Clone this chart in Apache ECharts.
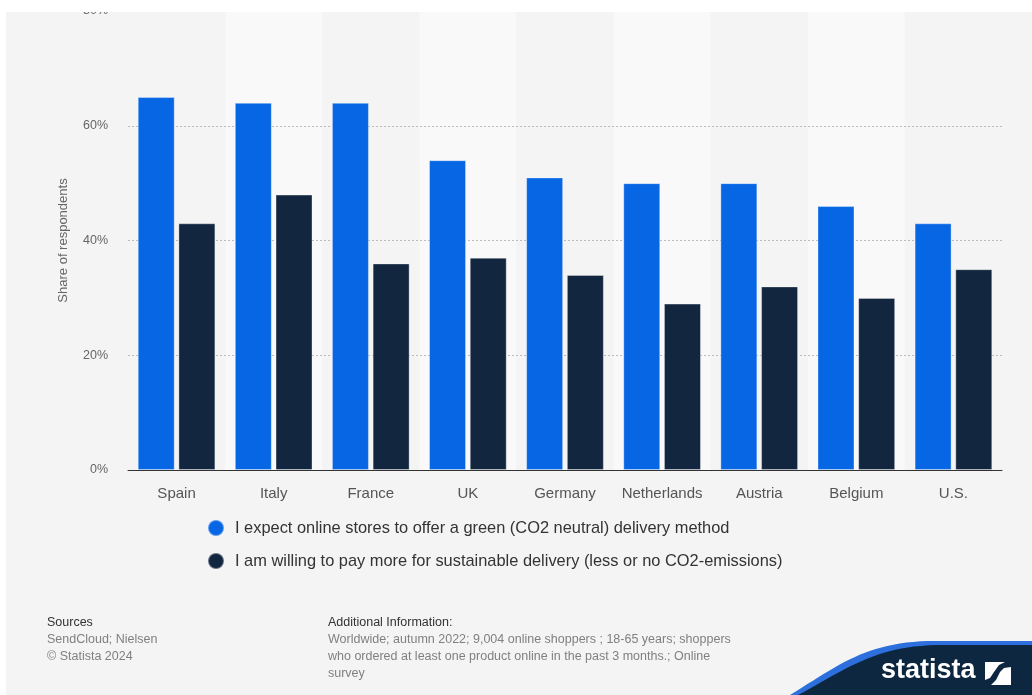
<!DOCTYPE html>
<html>
<head>
<meta charset="utf-8">
<script src="https://cdn.jsdelivr.net/npm/echarts@6/dist/echarts.min.js"></script>
<style>
  html, body { margin: 0; padding: 0; background: #ffffff; }
  #chart { width: 1032px; height: 695px; }
</style>
</head>
<body>
<div id="chart"></div>
<script>
// Countries surveyed
const countries = ['Spain', 'Italy', 'France', 'UK', 'Germany', 'Netherlands', 'Austria', 'Belgium', 'U.S.'];
// Share of respondents (%)
const expectGreen = [65, 64, 64, 54, 51, 50, 50, 46, 43];
const willingToPay = [43, 48, 36, 37, 34, 29, 32, 30, 35];
// Series names
const seriesNames = [
  'I expect online stores to offer a green (CO2 neutral) delivery method',
  'I am willing to pay more for sustainable delivery (less or no CO2-emissions)'
];
// Footer texts
const sourceLines = ['SendCloud; Nielsen', '\u00a9 Statista 2024'];
const infoLines = [
  'Worldwide; autumn 2022; 9,004 online shoppers ; 18-65 years; shoppers',
  'who ordered at least one product online in the past 3 months.; Online',
  'survey'
];

const FONT = 'Liberation Sans, Arial, sans-serif';
const FOOT_FONT = 'Liberation Sans Narrow, Liberation Sans, Arial, sans-serif';

// Sample a cubic bezier into polygon points (for the logo banner outline)
function bezierPoints(p0, p1, p2, p3, steps) {
  const pts = [];
  for (let i = 0; i <= steps; i++) {
    const t = i / steps, u = 1 - t;
    pts.push([
      u * u * u * p0[0] + 3 * u * u * t * p1[0] + 3 * u * t * t * p2[0] + t * t * t * p3[0],
      u * u * u * p0[1] + 3 * u * u * t * p1[1] + 3 * u * t * t * p2[1] + t * t * t * p3[1]
    ]);
  }
  return pts;
}
function bannerShape(dx, dy) {
  const curve = bezierPoints([790 + dx, 695], [840 + dx, 664 + dy], [866 + dx, 643 + dy], [928 + dx, 641 + dy], 24);
  return curve.concat([[1032, 641 + dy], [1032, 695]]);
}

const chart = echarts.init(document.getElementById('chart'), null, { renderer: 'canvas' });

const footer = [];
footer.push({ type: 'text', left: 47, top: 616, z: 10,
  style: { text: 'Sources', font: '12.5px ' + FOOT_FONT, fill: '#333' } });
sourceLines.forEach((t, i) => footer.push({ type: 'text', left: 47, top: 633 + i * 17, z: 10,
  style: { text: t, font: '12.5px ' + FOOT_FONT, fill: '#808080' } }));
footer.push({ type: 'text', left: 328, top: 616, z: 10,
  style: { text: 'Additional Information:', font: '12.5px ' + FOOT_FONT, fill: '#333' } });
infoLines.forEach((t, i) => footer.push({ type: 'text', left: 328, top: 633 + i * 17, z: 10,
  style: { text: t, font: '12.5px ' + FOOT_FONT, fill: '#808080' } }));

const option = {
  backgroundColor: '#ffffff',
  animation: false,
  color: ['#0766e4', '#12263f'],
  grid: { left: 128, right: 30, top: 11, bottom: 225, containLabel: false },
  legend: {
    orient: 'vertical',
    left: 202,
    top: 514,
    icon: 'circle',
    itemWidth: 16,
    itemHeight: 16,
    itemGap: 15,
    textStyle: { fontFamily: FONT, fontSize: 16.4, lineHeight: 18, color: '#333', padding: [0, 0, 0, 6] },
    data: seriesNames
  },
  xAxis: [
    {
      // category axis with labels and baseline
      type: 'category',
      position: 'bottom',
      z: 3,
      data: countries,
      axisLine: { lineStyle: { color: '#333', width: 1 } },
      axisTick: { show: false },
      axisLabel: { interval: 0, fontFamily: FONT, fontSize: 15, color: '#555', margin: 16 },
      splitArea: { show: false }
    },
    {
      // alternating column bands behind everything
      type: 'category',
      position: 'bottom',
      z: -1,
      data: countries,
      axisLine: { show: false },
      axisTick: { show: false },
      axisLabel: { show: false },
      splitArea: { show: true, interval: 0, areaStyle: { color: ['#f4f4f4', '#f9f9f9'] } }
    }
  ],
  yAxis: {
    type: 'value',
    min: 0,
    max: 80,
    interval: 20,
    name: 'Share of respondents',
    nameLocation: 'middle',
    nameGap: 58,
    nameTextStyle: { fontFamily: FONT, fontSize: 13, color: '#666' },
    axisLine: { show: false },
    axisTick: { show: false },
    axisLabel: { fontFamily: FONT, fontSize: 12.5, color: '#666', margin: 20, formatter: '{value}%' },
    splitLine: { lineStyle: { color: '#bcbcbc', type: [2, 2], width: 1 } }
  },
  series: [
    {
      name: seriesNames[0],
      type: 'bar',
      data: expectGreen,
      barGap: '10%',
      barCategoryGap: '20%',
      itemStyle: { borderColor: 'rgba(255,255,255,0.35)', borderWidth: 1 }
    },
    {
      name: seriesNames[1],
      type: 'bar',
      data: willingToPay,
      itemStyle: { borderColor: 'rgba(255,255,255,0.35)', borderWidth: 1 }
    }
  ],
  graphic: [
    // page background panel
    { type: 'rect', left: 6, top: 11, z: -10, silent: true,
      shape: { width: 1026, height: 684 }, style: { fill: '#f4f4f4' } },
    // top white strip
    { type: 'rect', left: 0, top: 0, z: 100, silent: true,
      shape: { width: 1032, height: 12 }, style: { fill: '#ffffff' } },
    // left white strip
    { type: 'rect', left: 0, top: 0, z: 100, silent: true,
      shape: { width: 6, height: 695 }, style: { fill: '#ffffff' } },
    // logo banner
    { type: 'polygon', z: 20, silent: true,
      shape: { points: bannerShape(0, 0) }, style: { fill: '#2d6fdc' } },
    { type: 'polygon', z: 21, silent: true,
      shape: { points: bannerShape(8, 4) }, style: { fill: '#0d2740' } },
    { type: 'text', left: 881, top: 657, z: 22, silent: true,
      style: { text: 'statista', font: 'bold 27px ' + FONT, fill: '#ffffff' } },
    { type: 'rect', left: 985, top: 662, z: 22, silent: true,
      shape: { width: 26, height: 23 }, style: { fill: '#ffffff' } },
    { type: 'polygon', z: 23, silent: true,
      shape: { points: [[985, 685], [991, 685], [996, 680], [1000, 672], [1004, 668], [1011, 667],
                        [1011, 662], [1005, 662], [999, 665], [994, 672], [990, 678], [985, 680]] },
      style: { fill: '#0d2740' } }
  ].concat(footer)
};

chart.setOption(option);
</script>
</body>
</html>
